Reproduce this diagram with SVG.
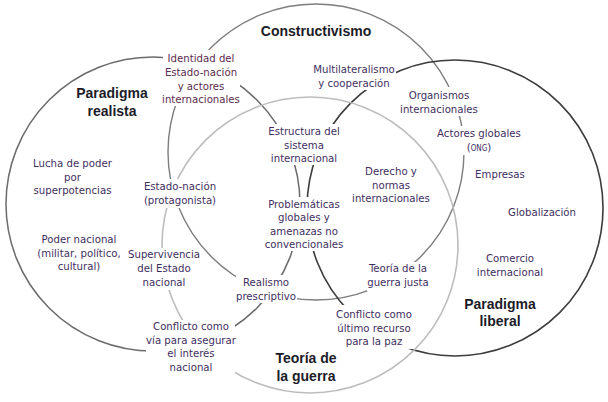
<svg xmlns="http://www.w3.org/2000/svg" width="608" height="402" viewBox="0 0 608 402">
  <style>
    .t { font-family: "DejaVu Sans Condensed", "DejaVu Sans", sans-serif; font-stretch: condensed; font-size: 11.3px; fill: #3f2f5f; text-anchor: middle; }
    .r { fill: #5c2c4f; }
    .h { font-family: "Liberation Sans", Arial, sans-serif; font-weight: bold; font-size: 14px; fill: #1c1c28; text-anchor: middle; }
    .sc { font-size: 8px; }
    .c { fill: none; }
  </style>
  <defs>
    <mask id="gaps" maskUnits="userSpaceOnUse" x="0" y="0" width="608" height="402">
      <rect x="0" y="0" width="608" height="402" fill="#fff"/>
      <g fill="#000">
        <rect x="163" y="50" width="77" height="56"/>
        <rect x="313" y="61" width="83" height="29"/>
        <rect x="406" y="87" width="66" height="29"/>
        <rect x="436" y="126" width="86" height="29"/>
        <rect x="268" y="124" width="72" height="41"/>
        <rect x="143" y="179" width="75" height="29"/>
        <rect x="263" y="197" width="82" height="54"/>
        <rect x="128" y="248" width="72" height="42"/>
        <rect x="236" y="275" width="61" height="28"/>
        <rect x="367" y="262" width="63" height="29"/>
        <rect x="334" y="305" width="79" height="44"/>
        <rect x="146" y="320" width="89" height="54"/>
      </g>
    </mask>
  </defs>

  <g id="connectors" mask="url(#gaps)">
    <circle id="circle-realista" class="c" cx="153" cy="204" r="147" stroke="#6b6b6b" stroke-width="1.5"/>
    <circle id="circle-constructivismo" class="c" cx="316" cy="152" r="148" stroke="#7d7d7d" stroke-width="1.4"/>
    <circle id="circle-liberal" class="c" cx="455" cy="208" r="148" stroke="#3c3c3c" stroke-width="1.6"/>
    <circle id="circle-guerra" class="c" cx="310" cy="245" r="148" stroke="#bdbdbd" stroke-width="1.6"/>
  </g>

  <g id="title-constructivismo"><text class="h" x="316" y="36">Constructivismo</text></g>
  <g id="title-realista"><text class="h" x="112"><tspan x="112" y="98">Paradigma</tspan><tspan x="112" y="116">realista</tspan></text></g>
  <g id="title-liberal"><text class="h" x="500"><tspan x="500" y="309">Paradigma</tspan><tspan x="500" y="326">liberal</tspan></text></g>
  <g id="title-guerra"><text class="h" x="306"><tspan x="306" y="363">Teoría de</tspan><tspan x="306" y="381">la guerra</tspan></text></g>

  <g id="identidad"><text class="t r"><tspan x="201" y="62">Identidad del</tspan><tspan x="201" y="76">Estado-nación</tspan><tspan x="201" y="89.5">y actores</tspan><tspan x="201" y="103">internacionales</tspan></text></g>
  <g id="multilateralismo"><text class="t"><tspan x="354" y="73">Multilateralismo</tspan><tspan x="354" y="86.5">y cooperación</tspan></text></g>
  <g id="organismos"><text class="t"><tspan x="439" y="99">Organismos</tspan><tspan x="439" y="113">internacionales</tspan></text></g>
  <g id="actores"><text class="t"><tspan x="479" y="137">Actores globales</tspan><tspan x="479" y="151">(<tspan class="sc">ONG</tspan>)</tspan></text></g>
  <g id="estructura"><text class="t"><tspan x="304" y="135">Estructura del</tspan><tspan x="304" y="148.5">sistema</tspan><tspan x="304" y="162">internacional</tspan></text></g>
  <g id="lucha"><text class="t"><tspan x="72.5" y="167">Lucha de poder</tspan><tspan x="72.5" y="181">por</tspan><tspan x="72.5" y="194">superpotencias</tspan></text></g>
  <g id="derecho"><text class="t"><tspan x="391" y="175">Derecho y</tspan><tspan x="391" y="188.5">normas</tspan><tspan x="391" y="202">internacionales</tspan></text></g>
  <g id="empresas"><text class="t" x="500" y="178">Empresas</text></g>
  <g id="estado-nacion"><text class="t"><tspan x="180" y="190">Estado-nación</tspan><tspan x="180" y="204">(protagonista)</tspan></text></g>
  <g id="problematicas"><text class="t"><tspan x="304" y="208">Problemáticas</tspan><tspan x="304" y="221">globales y</tspan><tspan x="304" y="234.5">amenazas no</tspan><tspan x="304" y="248">convencionales</tspan></text></g>
  <g id="globalizacion"><text class="t" x="542" y="216">Globalización</text></g>
  <g id="poder-nacional"><text class="t"><tspan x="79" y="243">Poder nacional</tspan><tspan x="79" y="257">(militar, político,</tspan><tspan x="79" y="270">cultural)</tspan></text></g>
  <g id="supervivencia"><text class="t"><tspan x="164" y="258">Supervivencia</tspan><tspan x="164" y="272">del Estado</tspan><tspan x="164" y="286">nacional</tspan></text></g>
  <g id="comercio"><text class="t"><tspan x="510" y="262">Comercio</tspan><tspan x="510" y="276">internacional</tspan></text></g>
  <g id="guerra-justa"><text class="t"><tspan x="398" y="272">Teoría de la</tspan><tspan x="398" y="285.5">guerra justa</tspan></text></g>
  <g id="realismo-prescriptivo"><text class="t"><tspan x="266" y="285.5">Realismo</tspan><tspan x="266" y="299.5">prescriptivo</tspan></text></g>
  <g id="conflicto-ultimo"><text class="t"><tspan x="374" y="318">Conflicto como</tspan><tspan x="374" y="332">último recurso</tspan><tspan x="374" y="345">para la paz</tspan></text></g>
  <g id="conflicto-via"><text class="t"><tspan x="191" y="330">Conflicto como</tspan><tspan x="191" y="344">vía para asegurar</tspan><tspan x="191" y="357">el interés</tspan><tspan x="191" y="371">nacional</tspan></text></g>
</svg>
